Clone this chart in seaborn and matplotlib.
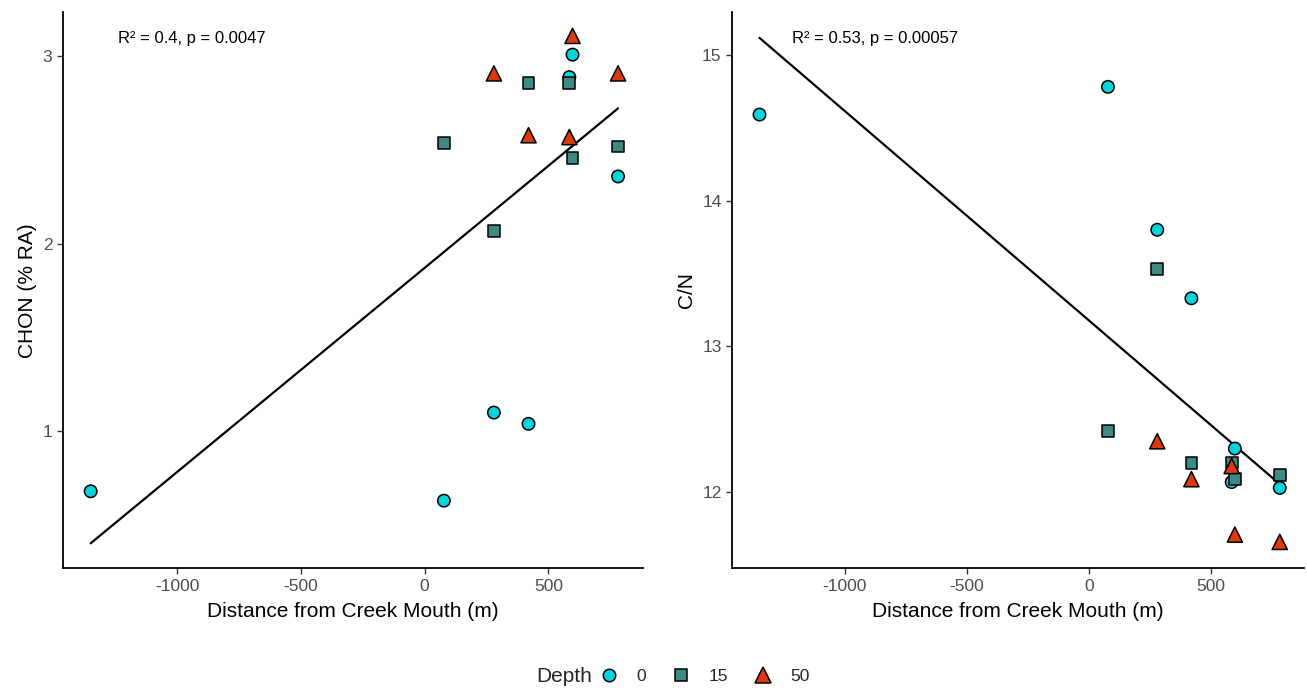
import pandas as pd
import matplotlib
matplotlib.use("Agg")
import matplotlib.pyplot as plt
import seaborn as sns

# --- data ---
SITES = [-1350, 78, 280, 420, 585, 598, 782]

DIST_0 = SITES
CHON_0 = [0.68, 0.63, 1.10, 1.04, 2.89, 3.01, 2.36]
CN_0 = [14.59, 14.78, 13.80, 13.33, 12.07, 12.30, 12.03]

DIST_15 = SITES[1:]
CHON_15 = [2.54, 2.07, 2.86, 2.86, 2.46, 2.52]
CN_15 = [12.42, 13.53, 12.20, 12.20, 12.09, 12.12]

DIST_50 = SITES[2:]
CHON_50 = [2.91, 2.58, 2.57, 3.11, 2.91]
CN_50 = [12.35, 12.09, 12.18, 11.71, 11.66]

DEPTHS = ['0', '15', '50']
STATS_TEXT = ['R\u00b2 = 0.4, p = 0.0047', 'R\u00b2 = 0.53, p = 0.00057']

PALETTE = {'0': '#00D4DC', '15': '#3E8A82', '50': '#DC3A0C'}
MARKERS = {'0': 'o', '15': 's', '50': '^'}
SIZES = {'0': 80, '15': 72, '50': 120}

sns.set_theme(style="ticks")
plt.rcParams['font.family'] = ['Liberation Sans', 'DejaVu Sans']
plt.rcParams['axes.unicode_minus'] = False

df = pd.DataFrame({
    'Distance': DIST_0 + DIST_15 + DIST_50,
    'CHON': CHON_0 + CHON_15 + CHON_50,
    'CN': CN_0 + CN_15 + CN_50,
    'Depth': ['0'] * len(DIST_0) + ['15'] * len(DIST_15) + ['50'] * len(DIST_50),
})

fig = plt.figure(figsize=(13.07, 6.92), dpi=100)
ax1 = fig.add_axes([0.048, 0.179, 0.444, 0.803])
ax2 = fig.add_axes([0.560, 0.179, 0.438, 0.803])

panels = [
    (ax1, 'CHON', 'CHON (% RA)', (0.27, 3.235), [1, 2, 3], STATS_TEXT[0], 0.095),
    (ax2, 'CN', 'C/N', (11.48, 15.29), [12, 13, 14, 15], STATS_TEXT[1], 0.105),
]

for ax, col, ylabel, ylim, yticks, stat, tx in panels:
    sns.regplot(data=df, x='Distance', y=col, ax=ax, scatter=False, ci=None,
                color='black', line_kws={'linewidth': 1.6})
    sns.scatterplot(data=df, x='Distance', y=col, hue='Depth', style='Depth',
                    size='Depth', sizes=SIZES,
                    hue_order=DEPTHS, style_order=DEPTHS, size_order=DEPTHS,
                    palette=PALETTE, markers=MARKERS, edgecolor='black',
                    linewidth=1.1, ax=ax, zorder=3)
    ax.set_xlim(-1463, 883)
    ax.set_ylim(*ylim)
    ax.set_xticks([-1000, -500, 0, 500])
    ax.set_yticks(yticks)
    ax.set_xlabel('Distance from Creek Mouth (m)', fontsize=15, color='black', labelpad=6)
    ax.set_ylabel(ylabel, fontsize=15, color='black', labelpad=4)
    ax.tick_params(axis='both', labelsize=12.5, labelcolor='#4D4D4D', color='#333333',
                   length=4, width=1)
    for side in ['left', 'bottom']:
        ax.spines[side].set_linewidth(1.3)
        ax.spines[side].set_color('black')
    sns.despine(ax=ax)
    ax.text(tx, 0.953, stat, transform=ax.transAxes, ha='left', va='center',
            fontsize=12, color='black')
    handles, labels = ax.get_legend_handles_labels()
    ax.get_legend().remove()

fig.text(0.453, 0.022, 'Depth', ha='right', va='center', fontsize=15)
fig.legend(handles, labels, loc='center', bbox_to_anchor=(0.536, 0.022), ncol=3,
           frameon=False, fontsize=12.5, handletextpad=0.6, columnspacing=1.0)

fig.savefig('out.png', dpi=100)
